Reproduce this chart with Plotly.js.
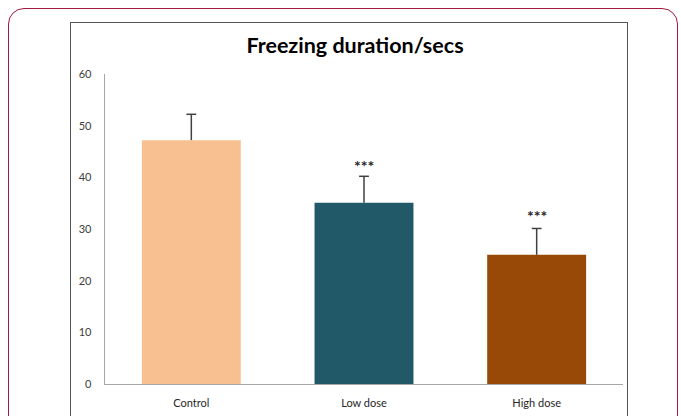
<!DOCTYPE html>
<html>
<head>
<meta charset="utf-8">
<script src="https://cdn.plot.ly/plotly-3.0.1.min.js"></script>
<style>
  html, body { margin: 0; padding: 0; background: #ffffff; overflow: hidden; }
  #wrap { position: relative; width: 681px; height: 416px; overflow: hidden; background: #fff; }
  #chart { position: absolute; left: 0; top: 0; width: 681px; height: 416px; }
  #outer { position: absolute; left: 8px; top: 8px; width: 670px; height: 440px;
           border: 1.5px solid #a0193f; border-radius: 16px; pointer-events: none; box-sizing: border-box; }
  #inner { position: absolute; left: 70px; top: 22px; width: 558px; height: 420px;
           border: 1.3px solid #555555; pointer-events: none; box-sizing: border-box; }
</style>
</head>
<body>
<div id="wrap">
  <div id="chart"></div>
  <div id="outer"></div>
  <div id="inner"></div>
</div>
<script>
const categories = ["Control", "Low dose", "High dose"];
const values = [47.2, 35.1, 25.0];
const errors = [5.0, 5.1, 5.1];
const barColors = ["#F8C090", "#215968", "#984807"];
const sigLabels = ["", "***", "***"];
const sigY = [0, 42.2, 32.7];
const yTicks = [0, 10, 20, 30, 40, 50, 60];

const FONT = "Lato, 'Open Sans', sans-serif";
const ERR_COLOR = "#404040";

const bars = {
  type: "bar",
  x: categories,
  y: values,
  width: 0.573,
  marker: { color: barColors, line: { width: 0 } },
  hoverinfo: "none"
};

// one-sided (upward) error bars: stem from bar top to bar top + error
const stemX = [], stemY = [];
categories.forEach((c, i) => {
  stemX.push(c, c, null);
  stemY.push(values[i], values[i] + errors[i], null);
});
const stems = {
  type: "scatter",
  mode: "lines",
  x: stemX,
  y: stemY,
  line: { color: ERR_COLOR, width: 1.5 },
  hoverinfo: "none",
  cliponaxis: false
};
const caps = {
  type: "scatter",
  mode: "markers",
  x: categories,
  y: values.map((v, i) => v + errors[i]),
  marker: { symbol: "line-ew-open", size: 7, color: ERR_COLOR, line: { color: ERR_COLOR, width: 1.5 } },
  hoverinfo: "none",
  cliponaxis: false
};

const annotations = [];
categories.forEach((c, i) => {
  if (sigLabels[i]) {
    annotations.push({
      x: c, y: sigY[i], xref: "x", yref: "y",
      text: "<b>" + sigLabels[i] + "</b>", showarrow: false,
      font: { family: FONT, size: 16, color: "#262626" },
      yanchor: "middle"
    });
  }
});

const layout = {
  width: 681,
  height: 416,
  margin: { l: 105, r: 58, t: 74, b: 32, pad: 0 },
  paper_bgcolor: "rgba(0,0,0,0)",
  plot_bgcolor: "rgba(0,0,0,0)",
  showlegend: false,
  title: {
    text: "<b>Freezing duration/secs</b>",
    font: { family: FONT, size: 21.5, color: "#000000" },
    x: 355 / 681, xanchor: "center",
    y: 1 - 45 / 416, yanchor: "middle"
  },
  xaxis: {
    type: "category",
    showline: true,
    linecolor: "#a6a6a6",
    linewidth: 1.3,
    ticks: "",
    ticklabelstandoff: 8,
    tickfont: { family: FONT, size: 11, color: "#262626" },
    showgrid: false,
    zeroline: false,
    fixedrange: true
  },
  yaxis: {
    range: [0, 60],
    tickvals: yTicks,
    ticktext: yTicks.map(String),
    showline: true,
    linecolor: "#a6a6a6",
    linewidth: 1.3,
    ticks: "",
    ticklabelstandoff: 10,
    tickfont: { family: FONT, size: 11, color: "#404040" },
    showgrid: false,
    zeroline: false,
    fixedrange: true
  },
  annotations: annotations
};

Plotly.newPlot("chart", [bars, stems, caps], layout, { displayModeBar: false, staticPlot: true });
</script>
</body>
</html>
